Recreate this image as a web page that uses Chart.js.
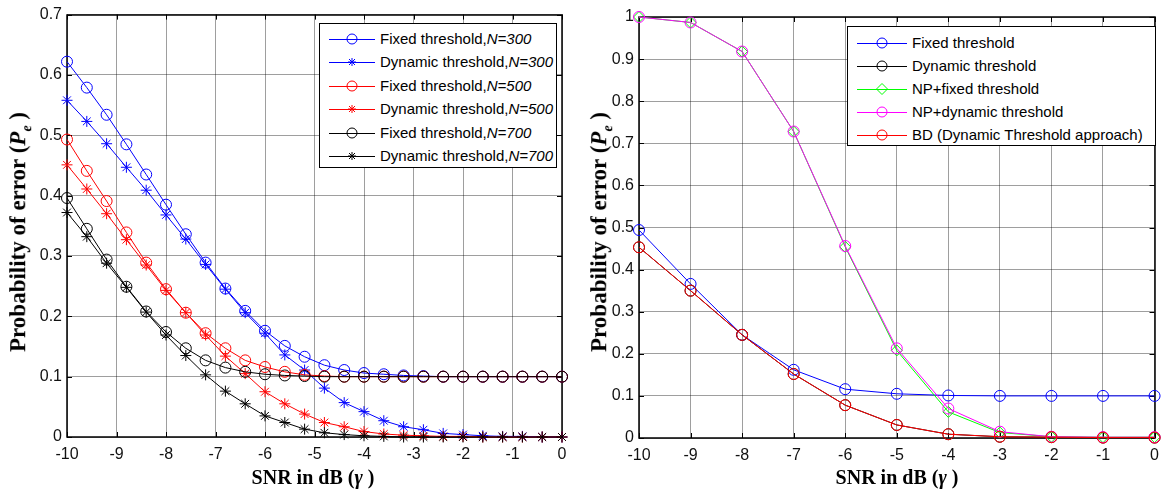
<!DOCTYPE html>
<html>
<head>
<meta charset="utf-8">
<script src="https://cdn.jsdelivr.net/npm/chart.js@4.4.1/dist/chart.umd.min.js"></script>
<style>
  body { margin: 0; background: #fff; }
  #wrap { position: relative; width: 1167px; height: 490px; overflow: hidden; }
  canvas { position: absolute; top: 0; }
  .ytitle, .xtitle { position: absolute; font-family: "Liberation Serif", "Times New Roman", serif; font-weight: bold; color: #000; white-space: nowrap; }
  .ytitle { font-size: 23px; transform: translate(-50%, -50%) rotate(-90deg); }
  .xtitle { font-size: 20px; transform: translate(-50%, -50%); }
  .ytitle sub { font-size: 14px; }
  .legend { position: absolute; background: #fff; border: 1px solid #000; font-family: "Liberation Sans", Arial, sans-serif; font-size: 15px; color: #000; box-sizing: border-box; }
  .legend .row { position: absolute; left: 0; right: 0; height: 20px; white-space: nowrap; }
  .legend svg { display: block; position: absolute; left: 0; top: 0; }
  .legend span { position: absolute; top: 0; line-height: 20px; white-space: nowrap; }
</style>
</head>
<body>
<div id="wrap">
  <canvas id="leftChart" width="585" height="490" style="left:0"></canvas>
  <canvas id="rightChart" width="582" height="490" style="left:585px"></canvas>

  <div class="ytitle" style="left:20px; top:232px">Probability of error (<i>P</i><sub><i>e</i></sub> )</div>
  <div class="ytitle" style="left:601px; top:232px">Probability of error (<i>P</i><sub><i>e</i></sub> )</div>
  <div class="xtitle" style="left:313px; top:477px">SNR in dB (<i>&gamma;</i> )</div>
  <div class="xtitle" style="left:897px; top:477px">SNR in dB (<i>&gamma;</i> )</div>

  <div id="legendLeft" class="legend" style="left:319px; top:23px; width:238px; height:145px"></div>
  <div id="legendRight" class="legend" style="left:847px; top:26px; width:309px; height:120px"></div>
</div>

<script>
// --- DATA: left panel (N comparison) ---
const snrLeft = [-10, -9.6, -9.2, -8.8, -8.4, -8, -7.6, -7.2, -6.8, -6.4, -6, -5.6, -5.2,
                 -4.8, -4.4, -4, -3.6, -3.2, -2.8, -2.4, -2, -1.6, -1.2, -0.8, -0.4, 0];

const fixed300 = [0.622, 0.579, 0.534, 0.485, 0.435, 0.385, 0.336, 0.289, 0.246, 0.209, 0.176, 0.151, 0.133,
                  0.119, 0.111, 0.106, 0.104, 0.102, 0.101, 0.100, 0.100, 0.100, 0.100, 0.100, 0.100, 0.100];
const dyn300 = [0.558, 0.523, 0.486, 0.447, 0.409, 0.368, 0.328, 0.286, 0.245, 0.206, 0.172, 0.136, 0.111,
                0.081, 0.057, 0.042, 0.027, 0.017, 0.012, 0.006, 0.004, 0.002, 0.001, 0.001, 0, 0];
const fixed500 = [0.493, 0.441, 0.391, 0.339, 0.289, 0.245, 0.206, 0.172, 0.147, 0.127, 0.116, 0.108, 0.103,
                  0.101, 0.100, 0.100, 0.100, 0.100, 0.100, 0.100, 0.100, 0.100, 0.100, 0.100, 0.100, 0.100];
const dyn500 = [0.451, 0.411, 0.370, 0.327, 0.285, 0.243, 0.206, 0.169, 0.134, 0.105, 0.075, 0.055, 0.038,
                0.024, 0.017, 0.009, 0.005, 0.003, 0.002, 0.001, 0.001, 0, 0, 0, 0, 0];
const fixed700 = [0.396, 0.345, 0.294, 0.249, 0.208, 0.174, 0.147, 0.127, 0.115, 0.108, 0.104, 0.102, 0.101,
                  0.100, 0.100, 0.100, 0.100, 0.100, 0.100, 0.100, 0.100, 0.100, 0.100, 0.100, 0.100, 0.100];
const dyn700 = [0.372, 0.332, 0.288, 0.248, 0.207, 0.169, 0.135, 0.103, 0.076, 0.055, 0.035, 0.024, 0.013,
                0.007, 0.004, 0.002, 0.001, 0, 0, 0, 0, 0, 0, 0, 0, 0];

// --- DATA: right panel (method comparison) ---
const snrRight = [-10, -9, -8, -7, -6, -5, -4, -3, -2, -1, 0];
const fixedR = [0.494, 0.366, 0.245, 0.162, 0.116, 0.105, 0.101, 0.100, 0.100, 0.100, 0.100];
const dynR = [0.453, 0.350, 0.245, 0.152, 0.078, 0.031, 0.009, 0.003, 0.002, 0.001, 0.001];
const npFixed = [1.0, 0.987, 0.918, 0.728, 0.454, 0.208, 0.062, 0.013, 0.003, 0.002, 0.002];
const npDyn = [1.0, 0.987, 0.918, 0.728, 0.456, 0.213, 0.070, 0.015, 0.003, 0.002, 0.002];
const bdDyn = [0.453, 0.350, 0.245, 0.152, 0.078, 0.031, 0.009, 0.003, 0.002, 0.001, 0.001];

// tick labels
const xTicks = [-10, -9, -8, -7, -6, -5, -4, -3, -2, -1, 0];
const yTicksLeft = [0, 0.1, 0.2, 0.3, 0.4, 0.5, 0.6, 0.7];
const yTicksRight = [0, 0.1, 0.2, 0.3, 0.4, 0.5, 0.6, 0.7, 0.8, 0.9, 1];

// series definitions (label parts: plain + italic)
const leftSeries = [
    { label: ['Fixed threshold,', 'N=300'], y: fixed300, color: '#0000ff', marker: 'circle' },
    { label: ['Dynamic threshold,', 'N=300'], y: dyn300, color: '#0000ff', marker: 'star' },
    { label: ['Fixed threshold,', 'N=500'], y: fixed500, color: '#ff0000', marker: 'circle' },
    { label: ['Dynamic threshold,', 'N=500'], y: dyn500, color: '#ff0000', marker: 'star' },
    { label: ['Fixed threshold,', 'N=700'], y: fixed700, color: '#000000', marker: 'circle' },
    { label: ['Dynamic threshold,', 'N=700'], y: dyn700, color: '#000000', marker: 'star' }
];
const rightSeries = [
    { label: ['Fixed threshold'], y: fixedR, color: '#0000ff', marker: 'circle' },
    { label: ['Dynamic threshold'], y: dynR, color: '#000000', marker: 'circle' },
    { label: ['NP+fixed threshold'], y: npFixed, color: '#00ff00', marker: 'diamond' },
    { label: ['NP+dynamic threshold'], y: npDyn, color: '#ff00ff', marker: 'circle' },
    { label: ['BD (Dynamic Threshold approach)'], y: bdDyn, color: '#ff0000', marker: 'circle' }
];

const pointStyleMap = { circle: 'circle', star: 'star', diamond: 'rectRot' };

function buildDatasets(xs, series) {
    const n = series.length;
    return series.map((s, i) => ({
        label: s.label.join(''),
        data: xs.map((x, k) => ({ x: x, y: s.y[k] })),
        borderColor: s.color,
        backgroundColor: 'transparent',
        borderWidth: 1,
        pointStyle: pointStyleMap[s.marker],
        pointRadius: 5.5,
        pointBorderColor: s.color,
        pointBackgroundColor: 'transparent',
        pointBorderWidth: 1,
        tension: 0,
        clip: false,
        order: n - i // later series drawn on top (like MATLAB)
    }));
}

// --- AXIS BOX + INWARD TICKS ---
const boxPlugin = {
    id: 'matlabBox',
    beforeDatasetsDraw(chart) {
        const { ctx, chartArea: a, scales } = chart;
        ctx.save();
        ctx.strokeStyle = '#000';
        ctx.lineWidth = 1;
        ctx.beginPath();
        scales.x.ticks.forEach(t => {
            const px = Math.round(scales.x.getPixelForValue(t.value)) + 0.5;
            ctx.moveTo(px, a.bottom); ctx.lineTo(px, a.bottom - 5);
            ctx.moveTo(px, a.top); ctx.lineTo(px, a.top + 5);
        });
        scales.y.ticks.forEach(t => {
            const py = Math.round(scales.y.getPixelForValue(t.value)) + 0.5;
            ctx.moveTo(a.left, py); ctx.lineTo(a.left + 5, py);
            ctx.moveTo(a.right, py); ctx.lineTo(a.right - 5, py);
        });
        ctx.stroke();
        ctx.lineWidth = 1.5;
        ctx.strokeRect(Math.round(a.left), Math.round(a.top), Math.round(a.right - a.left), Math.round(a.bottom - a.top));
        ctx.restore();
    }
};

function makeChart(canvasId, xs, series, yMax, yTickVals, layout) {
    const tickFont = { family: '"Liberation Sans", Arial, sans-serif', size: 16 };
    return new Chart(document.getElementById(canvasId), {
        type: 'line',
        data: { datasets: buildDatasets(xs, series) },
        options: {
            responsive: false,
            animation: false,
            layout: { padding: layout.padding },
            plugins: { legend: { display: false }, tooltip: { enabled: false } },
            scales: {
                x: {
                    type: 'linear',
                    min: -10, max: 0,
                    afterBuildTicks: s => { s.ticks = xTicks.map(v => ({ value: v })); },
                    afterFit: s => { s.height = layout.xHeight; },
                    ticks: { font: tickFont, color: '#111', padding: 8, maxRotation: 0,
                             callback: v => String(v) },
                    grid: { color: 'rgba(0,0,0,0.38)', drawTicks: false },
                    border: { display: false }
                },
                y: {
                    min: 0, max: yMax,
                    afterBuildTicks: s => { s.ticks = yTickVals.map(v => ({ value: v })); },
                    afterFit: s => { s.width = layout.yWidth; },
                    ticks: { font: tickFont, color: '#111', padding: 5,
                             callback: v => String(+v.toFixed(1)) },
                    grid: { color: 'rgba(0,0,0,0.38)', drawTicks: false },
                    border: { display: false }
                }
            }
        },
        plugins: [boxPlugin]
    });
}

makeChart('leftChart', snrLeft, leftSeries, 0.7, yTicksLeft,
    { padding: { top: 14, right: 23, left: 0, bottom: 0 }, yWidth: 67, xHeight: 53 });
makeChart('rightChart', snrRight, rightSeries, 1, yTicksRight,
    { padding: { top: 17, right: 7, left: 0, bottom: 0 }, yWidth: 54, xHeight: 52 });

// --- HTML LEGENDS ---
function markerSvg(marker, color, lineFrom, lineTo, cx) {
    let m = '';
    if (marker === 'circle') {
        m = `<circle cx="${cx}" cy="10" r="5" fill="none" stroke="${color}" stroke-width="1"/>`;
    } else if (marker === 'star') {
        m = `<path d="M${cx - 4} 10H${cx + 4}M${cx} 6V14M${cx - 3} 7L${cx + 3} 13M${cx + 3} 7L${cx - 3} 13" stroke="${color}" stroke-width="1"/>`;
    } else if (marker === 'diamond') {
        m = `<path d="M${cx} 4.5L${cx + 5.5} 10L${cx} 15.5L${cx - 5.5} 10Z" fill="none" stroke="${color}" stroke-width="1"/>`;
    }
    return `<svg width="${lineTo + 2}" height="20"><line x1="${lineFrom}" y1="10.5" x2="${lineTo}" y2="10.5" stroke="${color}" stroke-width="1"/>${m}</svg>`;
}

function buildLegend(elId, series, opts) {
    const el = document.getElementById(elId);
    series.forEach((s, i) => {
        const row = document.createElement('div');
        row.className = 'row';
        row.style.top = (opts.firstRow + i * opts.rowGap - 10) + 'px';
        let text = s.label[0];
        if (s.label[1]) text += '<i>' + s.label[1] + '</i>';
        row.innerHTML = markerSvg(s.marker, s.color, opts.lineFrom, opts.lineTo, opts.markerX) +
            `<span style="left:${opts.textX}px">${text}</span>`;
        el.appendChild(row);
    });
}

buildLegend('legendLeft', leftSeries, { firstRow: 15, rowGap: 23.4, lineFrom: 9, lineTo: 55, markerX: 32, textX: 60 });
buildLegend('legendRight', rightSeries, { firstRow: 15.5, rowGap: 23.2, lineFrom: 9, lineTo: 59, markerX: 34, textX: 64 });
</script>
</body>
</html>
